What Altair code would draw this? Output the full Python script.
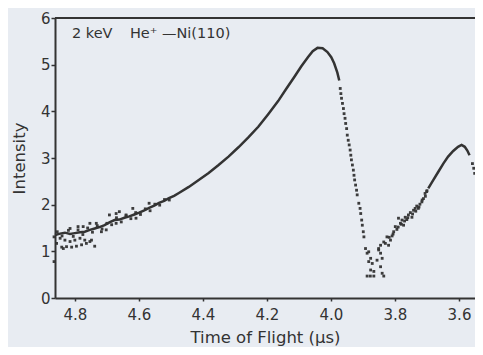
import altair as alt
import pandas as pd

# Smooth, dense part of the spectrum (reads as a continuous trace)
line1_t = [4.862, 4.846, 4.831, 4.815, 4.800, 4.784, 4.769, 4.753, 4.738, 4.723,
           4.707, 4.692, 4.676, 4.661, 4.645, 4.630, 4.614, 4.599, 4.583, 4.568,
           4.552, 4.537, 4.521, 4.506, 4.490, 4.475, 4.444, 4.413, 4.382, 4.351,
           4.320, 4.289, 4.258, 4.227, 4.196, 4.165, 4.140, 4.114, 4.093, 4.072,
           4.057, 4.042, 4.026, 4.011, 3.999, 3.990, 3.980, 3.974]
line1_i = [1.35, 1.38, 1.40, 1.37, 1.39, 1.41, 1.42, 1.46, 1.49, 1.52,
           1.56, 1.62, 1.67, 1.68, 1.72, 1.75, 1.79, 1.83, 1.88, 1.93,
           1.98, 2.04, 2.08, 2.14, 2.19, 2.25, 2.38, 2.53, 2.68, 2.85,
           3.03, 3.23, 3.44, 3.67, 3.94, 4.22, 4.48, 4.74, 4.96, 5.16,
           5.29, 5.36, 5.35, 5.27, 5.16, 5.03, 4.83, 4.66]

line2_t = [3.696, 3.680, 3.665, 3.649, 3.634, 3.618, 3.603, 3.592, 3.582, 3.574, 3.567]
line2_i = [2.35, 2.53, 2.70, 2.88, 3.03, 3.15, 3.24, 3.28, 3.24, 3.16, 3.06]

# Individual scattered data points
dots_t = [
    # steep drop after the main peak
    3.971, 3.969, 3.967, 3.964, 3.961, 3.959, 3.956, 3.954, 3.951, 3.949,
    3.946, 3.943, 3.940, 3.938, 3.936, 3.933, 3.930, 3.928, 3.926, 3.923,
    3.920, 3.918, 3.913, 3.909, 3.907, 3.904, 3.902, 3.899, 3.897,
    # scatter at the minimum
    3.892, 3.887, 3.882, 3.876, 3.882, 3.871, 3.876, 3.866, 3.851, 3.845,
    3.856, 3.840, 3.845, 3.840, 3.887, 3.877, 3.866, 3.835,
    # rising flank of the second peak
    3.851, 3.845, 3.830, 3.820, 3.814, 3.825, 3.809, 3.804, 3.794, 3.799,
    3.783, 3.778, 3.773, 3.789, 3.768, 3.763, 3.758, 3.752, 3.747, 3.742,
    3.737, 3.732, 3.727, 3.722, 3.716, 3.711, 3.706, 3.701,
    3.835, 3.818, 3.806, 3.790, 3.780, 3.770, 3.760, 3.745, 3.735, 3.725,
    3.715, 3.705, 3.700,
    # after the second peak
    3.558, 3.554, 3.551,
    # noisy low-energy tail
    4.846, 4.831, 4.815, 4.800, 4.784, 4.769, 4.753, 4.841, 4.826, 4.810,
    4.795, 4.779, 4.764, 4.748, 4.738, 4.836, 4.857, 4.790, 4.774, 4.733,
    4.717, 4.702, 4.671, 4.640, 4.609, 4.671, 4.865, 4.865, 4.815, 4.753,
    4.692, 4.619, 4.568, 4.661,
    4.855, 4.840, 4.820, 4.805, 4.790, 4.775, 4.760, 4.745, 4.730, 4.715,
    4.700, 4.685, 4.670, 4.655, 4.640, 4.625, 4.610, 4.595, 4.580, 4.565,
    4.550, 4.535, 4.520, 4.505]
dots_i = [
    4.49, 4.38, 4.28, 4.17, 4.06, 3.95, 3.85, 3.74, 3.63, 3.49,
    3.38, 3.28, 3.17, 3.06, 2.96, 2.85, 2.74, 2.63, 2.53, 2.42,
    2.31, 2.21, 2.03, 1.92, 1.81, 1.67, 1.56, 1.42, 1.31,
    1.06, 0.96, 0.99, 0.85, 0.78, 0.74, 0.60, 0.57, 1.03, 0.96,
    0.81, 0.85, 0.67, 0.53, 0.47, 0.47, 0.47, 0.47,
    1.06, 1.13, 1.17, 1.13, 1.24, 1.31, 1.33, 1.42, 1.47, 1.53,
    1.60, 1.67, 1.56, 1.71, 1.73, 1.68, 1.78, 1.83, 1.73, 1.88,
    1.92, 1.97, 1.92, 2.01, 2.06, 2.13, 2.24, 2.28,
    1.20, 1.30, 1.37, 1.52, 1.58, 1.65, 1.72, 1.80, 1.86, 1.95,
    2.10, 2.18, 2.30,
    2.88, 2.78, 2.67,
    1.28, 1.24, 1.21, 1.24, 1.28, 1.24, 1.21, 1.09, 1.10, 1.09,
    1.11, 1.14, 1.17, 1.24, 1.11, 1.06, 1.17, 1.53, 1.53, 1.60,
    1.42, 1.46, 1.81, 1.78, 1.71, 1.60, 1.31, 0.78, 1.49, 1.60,
    1.78, 1.92, 2.03, 1.85,
    1.42, 1.33, 1.45, 1.32, 1.46, 1.36, 1.50, 1.41, 1.55, 1.48,
    1.60, 1.57, 1.72, 1.63, 1.76, 1.70, 1.83, 1.79, 1.91, 1.87,
    2.01, 1.99, 2.11, 2.10]

x_ticks = [4.8, 4.6, 4.4, 4.2, 4.0, 3.8, 3.6]
y_ticks = [0, 1, 2, 3, 4, 5, 6]
annotation = ["2 keV", "He⁺ —Ni(110)"]
ann_t = [4.809, 4.628]
ann_i = [5.66, 5.66]

lines = pd.DataFrame({
    "t": line1_t + line2_t,
    "i": line1_i + line2_i,
    "seg": ["a"] * len(line1_t) + ["b"] * len(line2_t),
})
dots = pd.DataFrame({"t": dots_t, "i": dots_i})
ann = pd.DataFrame({"t": ann_t, "i": ann_i, "label": annotation})
top = pd.DataFrame({"i": [6]})

FONT = "DejaVu Sans"
INK = "#333333"

x_scale = alt.Scale(domain=[3.55, 4.862], reverse=True, nice=False, zero=False)
y_scale = alt.Scale(domain=[0, 6], nice=False, zero=False)

x_enc = alt.X("t:Q", scale=x_scale, axis=alt.Axis(
    title="Time of Flight (μs)", values=x_ticks, format=".1f",
    tickSize=3, labelPadding=6, titlePadding=7))
y_enc = alt.Y("i:Q", scale=y_scale, axis=alt.Axis(
    title="Intensity", values=y_ticks, format="d",
    tickSize=4, labelPadding=1, titlePadding=13))

line_layer = alt.Chart(lines).mark_line(color=INK, strokeWidth=2.5).encode(
    x=x_enc, y=y_enc, detail="seg:N", order="t:Q")

dot_layer = alt.Chart(dots).mark_point(
    shape="square", filled=True, size=8, color=INK, opacity=0.95
).encode(x=x_enc, y=y_enc)

top_rule = alt.Chart(top).mark_rule(color=INK, strokeWidth=2).encode(
    y=alt.Y("i:Q", scale=y_scale))

text_layer = alt.Chart(ann).mark_text(
    align="left", baseline="middle", font=FONT, fontSize=14.5, color=INK
).encode(x=alt.X("t:Q", scale=x_scale), y=alt.Y("i:Q", scale=y_scale), text="label:N")

chart = alt.layer(top_rule, line_layer, dot_layer, text_layer).properties(
    width=420, height=280,
    padding={"left": 47, "top": 10, "right": 0, "bottom": 49},
    autosize=alt.AutoSizeParams(type="none"),
    background="#e8ecf2",
).configure_view(stroke=None).configure_axis(
    grid=False,
    domainColor=INK, domainWidth=2,
    tickColor=INK, tickWidth=1.5,
    labelFont=FONT, labelFontSize=15, labelColor=INK,
    titleFont=FONT, titleFontSize=16.5, titleFontWeight="normal", titleColor=INK,
)

chart.save("out.html", embed_options={"renderer": "svg", "actions": False})
